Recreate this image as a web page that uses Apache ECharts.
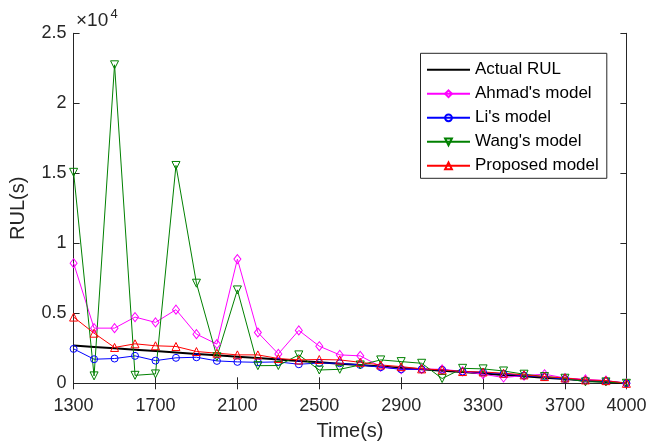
<!DOCTYPE html>
<html>
<head>
<meta charset="utf-8">
<script src="https://cdn.jsdelivr.net/npm/echarts@6/dist/echarts.min.js"></script>
<style>html,body{margin:0;padding:0;background:#fff;}#c{width:650px;height:443px;}</style>
</head>
<body>
<div id="c"></div>
<script>
const time = [1300,1400,1500,1600,1700,1800,1900,2000,2100,2200,2300,2400,2500,2600,2700,2800,2900,3000,3100,3200,3300,3400,3500,3600,3700,3800,3900,4000];
const actualRUL = [2700,2600,2500,2400,2300,2200,2100,2000,1900,1800,1700,1600,1500,1400,1300,1200,1100,1000,900,800,700,600,500,400,300,200,100,0];
const ahmad = [8580,3940,3940,4730,4350,5260,3510,2800,8870,3630,2100,3780,2650,2030,1960,1190,1000,1020,1000,850,650,410,550,650,380,280,200,0];
const li = [2460,1720,1770,1960,1620,1820,1860,1600,1530,1500,1530,1360,1450,1430,1310,1150,1000,1000,960,840,780,680,550,450,300,200,150,0];
const wang = [15070,530,22750,570,670,15560,7150,1900,6670,1260,1270,2030,950,1000,1310,1670,1550,1430,340,1070,1030,880,650,480,360,100,100,0];
const proposed = [4730,3580,2560,2820,2680,2630,2270,2150,2030,2030,1770,1670,1700,1670,1500,1310,1190,1030,960,840,810,720,600,480,380,240,190,0];
const yTicks = [0, 5000, 10000, 15000, 20000, 25000];

const axisColor = '#262626';
const font = 'Liberation Sans, Arial, Helvetica, sans-serif';
function pairs(arr){ return time.map((t,i)=>[t, arr[i]]); }
function mk(name, data, color, symbol, size, rot, lw){
  const noSym = symbol === 'none';
  return {
    name, type:'line', data: pairs(data), xAxisIndex:0, yAxisIndex:0,
    symbol: symbol, symbolSize: size, symbolRotate: rot || 0,
    showSymbol: !noSym,
    lineStyle:{color, width: lw || 1},
    itemStyle:{color:'rgba(255,255,255,0)', borderColor: noSym ? 'rgba(0,0,0,0)' : color, borderWidth: noSym ? 0 : 1},
    emphasis:{disabled:true}, animation:false
  };
}
const chart = echarts.init(document.getElementById('c'));
const xCommon = {type:'value', min:1300, max:4000, interval:400,
  axisLine:{show:true, lineStyle:{color:axisColor, width:1}},
  axisTick:{show:true, inside:true, length:6, lineStyle:{color:axisColor}},
  splitLine:{show:false}};
const yCommon = {type:'value', min:0, max:25000, interval:5000,
  axisLine:{show:true, lineStyle:{color:axisColor, width:1}},
  axisTick:{show:true, inside:true, length:6, lineStyle:{color:axisColor}},
  splitLine:{show:false}};
chart.setOption({
  backgroundColor:'#fff',
  animation:false,
  grid:{left:73.6, right:23.6, top:33.3, bottom:59.7, containLabel:false, outerBoundsMode:'none'},
  xAxis:[
    Object.assign({}, xCommon, {position:'bottom', name:'Time(s)', nameLocation:'middle', nameGap:38,
      nameTextStyle:{fontSize:20, color:axisColor, fontFamily:font},
      axisLabel:{fontSize:18, color:axisColor, fontFamily:font, margin:14, showMaxLabel:true, showMinLabel:true,
        formatter: v => String(v)}}),
    Object.assign({}, xCommon, {position:'top', axisLabel:{show:false}})
  ],
  yAxis:[
    Object.assign({}, yCommon, {position:'left', name:'RUL(s)', nameLocation:'middle', nameGap:45,
      nameTextStyle:{fontSize:20, color:axisColor, fontFamily:font},
      axisLabel:{fontSize:18, color:axisColor, fontFamily:font, margin:7,
        formatter: v => yTicks.indexOf(v) >= 0 ? String(v/10000) : ''}}),
    Object.assign({}, yCommon, {position:'right', axisLabel:{show:false}})
  ],
  legend:{
    orient:'vertical', left:420.5, top:53.3,
    padding:[8, 8, 4, 5.5],
    itemWidth:43, itemHeight:8.5, itemGap:7,
    backgroundColor:'#fff', borderColor:axisColor, borderWidth:1, borderRadius:0,
    textStyle:{fontSize:17, color:'#000', fontFamily:font},
    data:['Actual RUL',"Ahmad's model","Li's model","Wang's model",'Proposed model']
  },
  graphic:[
    {type:'text', x:76, y:21, style:{text:'×10', fontSize:19, fill:axisColor, fontFamily:font, verticalAlign:'middle'}},
    {type:'text', x:110.5, y:14, style:{text:'4', fontSize:13, fill:axisColor, fontFamily:font, verticalAlign:'middle'}}
  ],
  series:[
    mk('Actual RUL', actualRUL, '#000000', 'none', 0, 0, 2),
    mk("Ahmad's model", ahmad, '#ff00ff', 'diamond', [7,9]),
    mk("Li's model", li, '#0000ff', 'circle', 7),
    mk("Wang's model", wang, '#008000', 'triangle', 8, 180),
    mk('Proposed model', proposed, '#ff0000', 'triangle', 8)
  ]
});
</script>
</body>
</html>
